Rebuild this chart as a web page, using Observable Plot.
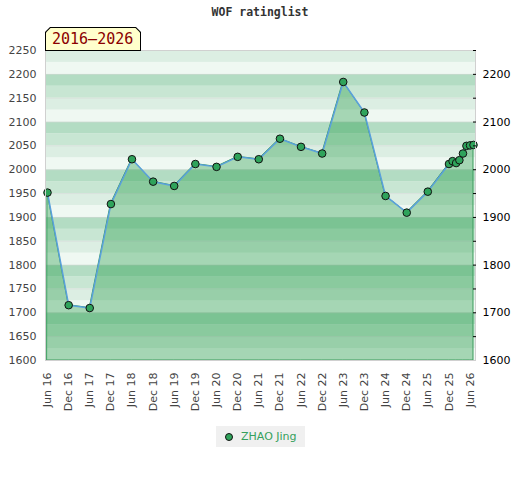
<!DOCTYPE html>
<html><head><meta charset="utf-8">
<script src="https://cdn.jsdelivr.net/npm/d3@7"></script>
<script src="https://cdn.jsdelivr.net/npm/@observablehq/plot@0.6"></script>
<style>
body{margin:0;background:#fff;}
#wrap{position:relative;width:520px;height:480px;overflow:hidden;}
#chart{position:absolute;left:0;top:0;}
#title{position:absolute;left:0;top:5px;width:520px;text-align:center;font:bold 11.5px "DejaVu Sans Mono",monospace;color:#333;}
#badge{position:absolute;left:45px;top:27px;width:96px;height:24px;background:#000;
  clip-path:polygon(5px 0,calc(100% - 5px) 0,100% 5px,100% 100%,0 100%,0 5px);}
#badge div{position:absolute;left:1px;top:1px;right:1px;bottom:1px;background:#ffffcc;
  clip-path:polygon(4.5px 0,calc(100% - 4.5px) 0,100% 4.5px,100% 100%,0 100%,0 4.5px);
  font:15px "DejaVu Sans Mono",monospace;color:#8b0000;line-height:23px;padding-left:6px;box-sizing:border-box;}
#legend{position:absolute;left:216px;top:426px;width:89px;height:21px;background:#f0f0f0;
  font:11px "DejaVu Sans",sans-serif;color:#35a05c;line-height:21px;box-sizing:border-box;padding-left:25px;}
#legend span{position:absolute;left:9px;top:7px;width:6px;height:6px;border-radius:50%;background:#2fa35b;border:1px solid #111;}
</style>
</head>
<body>
<div id="wrap">
  <div id="chart"></div>
  <div id="title">WOF ratinglist</div>
  <div id="badge"><div>2016–2026</div></div>
  <div id="legend"><span></span>ZHAO Jing</div>
</div>
<script>
const months = ["2016-06","2016-12","2017-06","2017-12","2018-06","2018-12","2019-06","2019-12",
  "2020-06","2020-12","2021-06","2021-12","2022-06","2022-12","2023-06","2023-12","2024-06","2024-12",
  "2025-06","2025-12","2026-01","2026-02","2026-03","2026-04","2026-05","2026-06","2026-07"];
const ratings = [1952,1716,1710,1928,2022,1975,1966,2012,2006,2027,2022,2065,2048,2034,2184,2120,1945,1910,
  1954,2012,2018,2014,2020,2034,2050,2051,2052];
const xTickMonths = ["2016-06","2016-12","2017-06","2017-12","2018-06","2018-12","2019-06","2019-12",
  "2020-06","2020-12","2021-06","2021-12","2022-06","2022-12","2023-06","2023-12","2024-06","2024-12",
  "2025-06","2025-12","2026-06"];
const leftTicks = [1600,1650,1700,1750,1800,1850,1900,1950,2000,2050,2100,2150,2200,2250];
const rightTicks = [1600,1700,1800,1900,2000,2100,2200];
const rightMinor = [1650,1700,1750,1800,1850,1900,1950,2000,2050,2100,2150,2200,2250];
const yDomain = [1600,2250];
const xDomain = ["2016-06","2026-07"];
const bandColors = ["#eff8f2","#dceee3","#c8e6d3","#b3dcc3"];

const parse = d3.utcParse("%Y-%m");
const fmtY = d3.format("d");
const data = months.map((m,i)=>({date:parse(m), rating:ratings[i]}));
const bands = d3.range(yDomain[0], yDomain[1], 25).map(lo=>({lo, hi:lo+25, color:bandColors[(lo%100)/25]}));

const chart = Plot.plot({
  width:520, height:420,
  marginTop:50, marginBottom:60, marginLeft:45, marginRight:45,
  x:{type:"utc", domain:xDomain.map(parse), inset:2, label:null},
  y:{domain:yDomain, label:null},
  style:{fontFamily:"DejaVu Sans", fontSize:"11px", background:"transparent", overflow:"visible"},
  marks:[
    Plot.rect(bands, {y1:"lo", y2:"hi", fill:"color"}),
    Plot.ruleY(leftTicks, {stroke:"#d8d8d8", strokeOpacity:0.5}),
    Plot.areaY(data, {x:"date", y1:yDomain[0], y2:"rating", fill:"rgb(0,139,42)", fillOpacity:0.31, stroke:"#3a9d5d", strokeWidth:1}),
    Plot.line(data, {x:"date", y:"rating", stroke:"#5aa0dc", strokeWidth:1.5}),
    Plot.dot(data, {x:"date", y:"rating", r:3.8, fill:"#2fa35b", stroke:"#111", strokeWidth:1}),
    Plot.frame({stroke:"#d0d0d0"}),
    Plot.axisY({anchor:"left", ticks:leftTicks, tickSize:0, tickPadding:9, fill:"#444", tickFormat:fmtY, label:null}),
    Plot.axisY({anchor:"right", ticks:rightMinor, tickSize:3, dx:-3, stroke:"#000", tickFormat:()=>"", label:null}),
    Plot.axisY({anchor:"right", ticks:rightTicks, tickSize:0, tickPadding:7, fill:"#000", tickFormat:fmtY, label:null}),
    Plot.axisX({ticks:xTickMonths.map(parse), tickFormat:d3.utcFormat("%b %y"), tickRotate:-90, tickSize:0, tickPadding:12, fill:"#444", label:null})
  ]
});
document.getElementById("chart").appendChild(chart);
</script>
</body></html>
